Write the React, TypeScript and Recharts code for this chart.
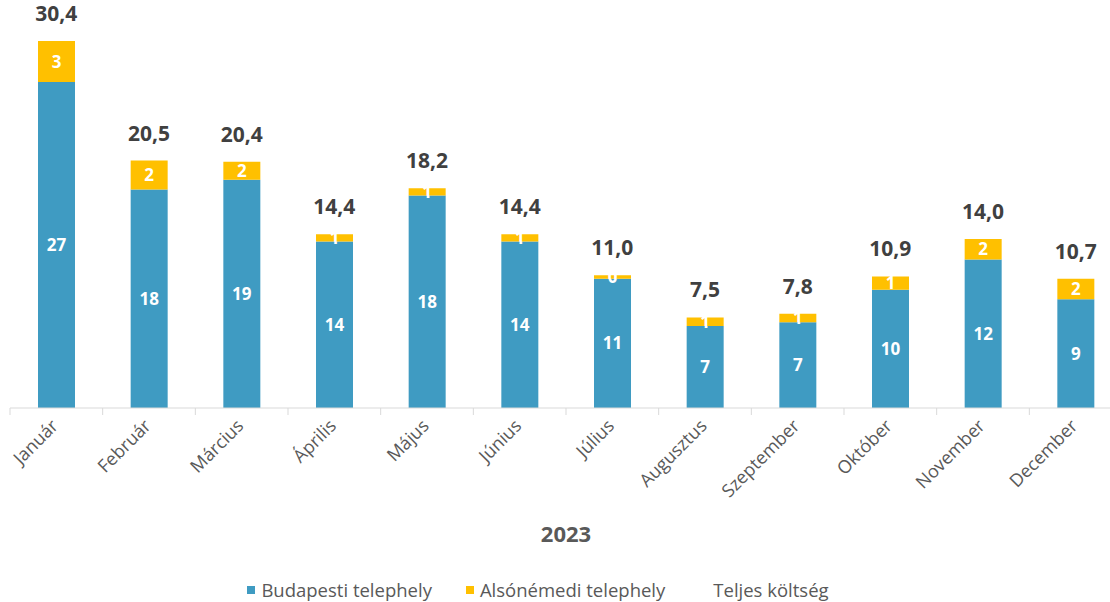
import React from 'react';
import { ComposedChart, Bar, Line, XAxis, YAxis, LabelList, Legend } from 'recharts';

const MONTHS = ['Január', 'Február', 'Március', 'Április', 'Május', 'Június', 'Július', 'Augusztus', 'Szeptember', 'Október', 'November', 'December'];
const BUDAPESTI = [27.0, 18.1, 18.9, 13.8, 17.6, 13.8, 10.7, 6.8, 7.1, 9.8, 12.3, 9.0];
const ALSONEMEDI = [3.4, 2.4, 1.5, 0.6, 0.6, 0.6, 0.3, 0.7, 0.7, 1.1, 1.7, 1.7];
const TOTALS = [30.4, 20.5, 20.4, 14.4, 18.2, 14.4, 11.0, 7.5, 7.8, 10.9, 14.0, 10.7];
const LEGEND = [
    { name: 'Budapesti telephely', color: '#3f9bc2' },
    { name: 'Alsónémedi telephely', color: '#ffc000' },
    { name: 'Teljes költség', color: 'transparent' },
];

const data = MONTHS.map((m, i) => ({ month: m, budapesti: BUDAPESTI[i], alsonemedi: ALSONEMEDI[i], total: TOTALS[i] }));

const CHART_W = 1130;
const MARGIN = { top: 0, right: 8, bottom: 0, left: 10 };
const BAND = (CHART_W - MARGIN.left - MARGIN.right) / MONTHS.length;
const FONT = '"Open Sans", sans-serif';

// month label, rotated like excel, plus a tick mark on the category boundary
function MonthTick(props: any) {
    const { x, y, payload } = props;
    const bx = x - BAND / 2;
    const tx = x + 3;
    const ty = y + 19;
    return (
        <g>
            <line x1={bx} x2={bx} y1={y} y2={y + 7} stroke="#d9d9d9" />
            <text x={tx} y={ty} transform={`rotate(-45, ${tx}, ${ty})`} textAnchor="end" fill="#595959" fontSize={18} fontFamily={FONT}>
                {payload.value}
            </text>
        </g>
    );
}

function LegendContent() {
    return (
        <div style={{ display: 'flex', justifyContent: 'center', height: 24, lineHeight: '24px', paddingRight: 56, fontFamily: FONT, fontSize: 18.5, color: '#595959' }}>
            {LEGEND.map((l) => (
                <div key={l.name} style={{ display: 'flex', alignItems: 'center', margin: '0 17px' }}>
                    <span style={{ width: 8, height: 8, background: l.color, marginRight: 6, display: 'inline-block' }} />
                    <span>{l.name}</span>
                </div>
            ))}
        </div>
    );
}

const fmtInt = (v: any) => String(Math.round(Number(v)));
const fmtDec = (v: any) => Number(v).toFixed(1).replace('.', ',');

export default function App() {
    return (
        <div style={{ position: 'absolute', left: 0, top: 0, width: 1110, height: 602, overflow: 'hidden', background: '#fff' }}>
            <ComposedChart width={CHART_W} height={602} data={data} margin={MARGIN} barSize={37}>
                <XAxis
                    dataKey="month"
                    height={170}
                    axisLine={{ stroke: '#d9d9d9' }}
                    tickLine={false}
                    tickSize={0}
                    tickMargin={0}
                    interval={0}
                    tick={<MonthTick />}
                    label={{ value: '2023', position: 'insideBottom', offset: 36, fill: '#595959', fontSize: 22, fontWeight: 700, fontFamily: FONT }}
                />
                <YAxis hide domain={[0, 33.8]} />
                <Legend verticalAlign="bottom" content={<LegendContent />} />
                <Bar dataKey="budapesti" name="Budapesti telephely" stackId="a" fill="#3f9bc2" isAnimationActive={false}>
                    <LabelList dataKey="budapesti" position="center" formatter={fmtInt} fill="#fff" fontSize={17} fontWeight={700} fontFamily={FONT} />
                </Bar>
                <Bar dataKey="alsonemedi" name="Alsónémedi telephely" stackId="a" fill="#ffc000" isAnimationActive={false}>
                    <LabelList dataKey="alsonemedi" position="center" formatter={fmtInt} fill="#fff" fontSize={17} fontWeight={700} fontFamily={FONT} />
                </Bar>
                <Line dataKey="total" name="Teljes költség" stroke="none" dot={false} activeDot={false} isAnimationActive={false}>
                    <LabelList dataKey="total" position="top" offset={20} formatter={fmtDec} fill="#404040" fontSize={21} fontWeight={700} fontFamily={FONT} />
                </Line>
            </ComposedChart>
        </div>
    );
}
